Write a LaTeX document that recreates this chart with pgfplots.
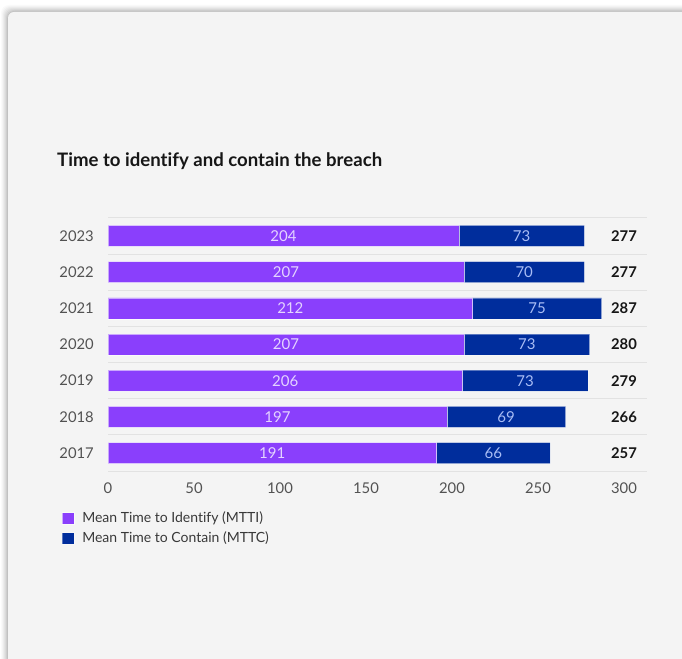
\documentclass[border=0pt]{standalone}
\usepackage{pgfplots}
\pgfplotsset{compat=1.18}
\usepackage{pgfplotstable}
\usepackage{fontspec}
\setmainfont{Lato}[Ligatures=NoCommon]

\definecolor{cardbg}{HTML}{F4F4F4}
\definecolor{mtti}{HTML}{8A3FFC}
\definecolor{mttc}{HTML}{002D9C}
\definecolor{gridc}{HTML}{E2E2E2}
\definecolor{ticktext}{HTML}{525252}
\definecolor{titletext}{HTML}{161616}
\definecolor{mttilabel}{HTML}{E4D4FF}
\definecolor{mttclabel}{HTML}{A9BDF5}

% Breach life cycle in days, 2017-2023
\pgfplotstableread{
idx year mtti mttc total
0 2017 191 66 257
1 2018 197 69 266
2 2019 206 73 279
3 2020 207 73 280
4 2021 212 75 287
5 2022 207 70 277
6 2023 204 73 277
}\breachdata

\pgfplotsset{
  breachframe/.style={
    scale only axis, width=538.7pt, height=253.2pt,
    xmin=0, xmax=313.2, ymin=-0.5, ymax=6.5,
    at={(108pt,186.9pt)}, anchor=south west,
  },
}

\begin{document}
\begin{tikzpicture}[x=1pt,y=1pt]
\useasboundingbox (0,0) rectangle (682,658);
\fill[white] (0,0) rectangle (682,658);
% soft card shadow
\foreach \d/\o in {7/0.02,6/0.025,5/0.03,4/0.035,3/0.04,2/0.05,1/0.06}{
  \fill[black, opacity=\o, rounded corners=8pt] (8-\d,-20) rectangle (700,{658-12+\d});
}
\fill[cardbg, rounded corners=6pt] (8,-20) rectangle (700,646);

% title
\node[anchor=base west, inner sep=0pt, text=titletext,
      font=\bfseries\fontsize{18.6}{21}\selectfont] at (57,{658-167})
  {Time to identify and contain the breach};

\begin{axis}[
  breachframe,
  xbar stacked,
  bar width=0.58,
  axis line style={draw=none},
  major tick length=0pt,
  xtick={0,50,...,300},
  ytick={0,...,6},
  yticklabels={2017,2018,2019,2020,2021,2022,2023},
  extra y ticks={-0.5,0.5,...,6.5},
  extra y tick labels={},
  extra y tick style={grid=major, major grid style={gridc, line width=0.9pt}},
  ticklabel style={text=ticktext, font=\fontsize{14.8}{16}\selectfont},
  yticklabel style={inner sep=0pt, xshift=-14pt},
  xticklabel style={inner sep=0pt, yshift=-11pt},
  /pgf/number format/assume math mode=true,
  legend style={at={(-0.0854,-0.162)}, anchor=north west, draw=none, fill=none,
    inner sep=0pt, row sep=8pt, text=titletext!85,
    font=\fontsize{14}{16}\selectfont,
    nodes={inner sep=0pt, text depth=2pt, text height=10pt}},
  legend cell align=left,
  legend image code/.code={\fill[#1] (0pt,-5.7pt) rectangle (11.5pt,5.7pt); \path (19.5pt,0pt);},
]
\addplot[fill=mtti, draw=white, draw opacity=0.55, line width=0.6pt]
  table[x=mtti, y=idx]{\breachdata};
\addlegendentry{Mean Time to Identify (MTTI)}
\addplot[fill=mttc, draw=white, draw opacity=0.35, line width=0.6pt]
  table[x=mttc, y=idx]{\breachdata};
\addlegendentry{Mean Time to Contain (MTTC)}
\end{axis}

% segment values and totals
\begin{axis}[breachframe, hide axis,
  every node near coord/.append style={anchor=center, inner sep=0pt,
    font=\fontsize{15}{16}\selectfont},
  nodes near coords align=center]
\addplot[draw=none, mark=none, nodes near coords, point meta=explicit symbolic,
  every node near coord/.append style={text=mttilabel}]
  table[x expr=\thisrow{mtti}/2, y=idx, meta=mtti]{\breachdata};
\addplot[draw=none, mark=none, nodes near coords, point meta=explicit symbolic,
  every node near coord/.append style={text=mttclabel}]
  table[x expr=\thisrow{mtti}+\thisrow{mttc}/2, y=idx, meta=mttc]{\breachdata};
\addplot[draw=none, mark=none, nodes near coords, point meta=explicit symbolic,
  every node near coord/.append style={text=titletext, font=\bfseries\fontsize{14.8}{16}\selectfont}]
  table[x expr=300, y=idx, meta=total]{\breachdata};
\end{axis}
\end{tikzpicture}
\end{document}
